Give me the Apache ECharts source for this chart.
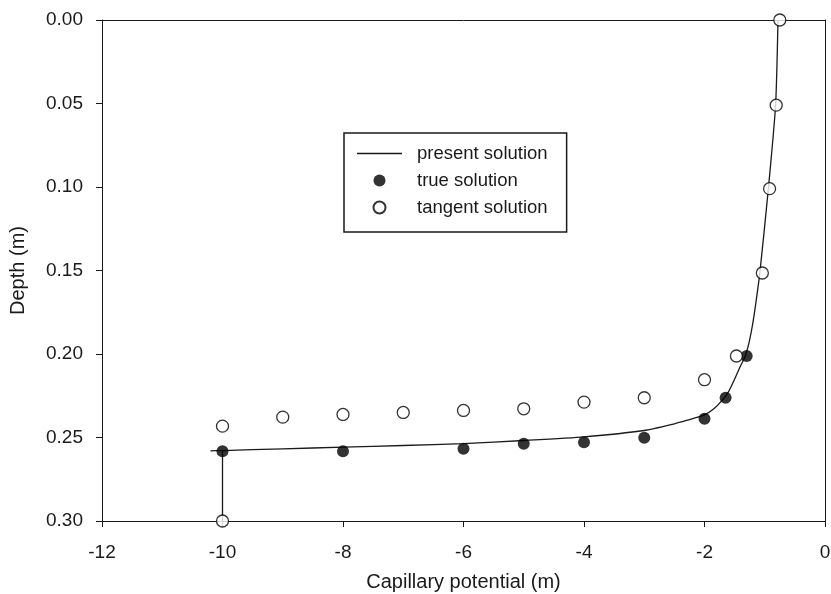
<!DOCTYPE html>
<html>
<head>
<meta charset="utf-8">
<script src="https://cdn.jsdelivr.net/npm/echarts@6/dist/echarts.min.js"></script>
<style>
  html, body { margin: 0; padding: 0; background: #fff; }
  #chart { width: 831px; height: 594px; }
</style>
</head>
<body>
<div id="chart"></div>
<script>
// present solution (capillary potential m, depth m)
var presentX = [-10.2, -10, -9, -8, -7, -6, -5, -4, -3, -2.5, -2.3, -2.0, -1.85, -1.7, -1.6, -1.5, -1.42, -1.33, -1.26, -1.2, -1.15, -1.08, -0.94, -0.82, -0.78];
var presentY = [0.2580, 0.2578, 0.2568, 0.2558, 0.2548, 0.2537, 0.2518, 0.2496, 0.2458, 0.2418, 0.2398, 0.2365, 0.2330, 0.2275, 0.2225, 0.2150, 0.2085, 0.2018, 0.1930, 0.1820, 0.1700, 0.1510, 0.1010, 0.0510, 0.0];
// vertical boundary segment at -10 m
var boundaryX = [-10, -10];
var boundaryY = [0.2578, 0.30];

// true solution
var trueX = [-10, -8, -6, -5, -4, -3, -2, -1.65, -1.3];
var trueY = [0.2582, 0.2583, 0.2567, 0.2537, 0.2528, 0.2501, 0.2388, 0.2262, 0.2012];

// tangent solution
var tangentX = [-10, -10, -9, -8, -7, -6, -5, -4, -3, -2, -1.47, -1.04, -0.92, -0.81, -0.75];
var tangentY = [0.30, 0.2432, 0.2378, 0.2362, 0.2350, 0.2338, 0.2328, 0.2288, 0.2262, 0.2154, 0.2012, 0.1515, 0.101, 0.051, 0.0];

function pairs(xs, ys) {
    var arr = [];
    for (var i = 0; i < xs.length; i++) {
        arr.push([xs[i], ys[i]]);
    }
    return arr;
}

var font = 'Liberation Sans, Arial, Helvetica, sans-serif';
var ink = '#1a1a1a';
var myChart = echarts.init(document.getElementById('chart'));

var option = {
    animation: false,
    backgroundColor: '#fff',
    textStyle: { fontFamily: font },
    grid: { left: 102, right: 6, top: 20, bottom: 73, outerBoundsMode: 'none', containLabel: false },
    legend: {
        orient: 'vertical',
        left: 344, top: 133,
        itemWidth: 45, itemHeight: 12, itemGap: 8,
        padding: [11, 19, 15, 13],
        borderColor: ink, borderWidth: 1.5,
        textStyle: { fontSize: 18.5, color: ink, padding: [0, 0, 0, 10], fontFamily: font },
        data: [
            { name: 'present solution', icon: 'path://M0,0L45,0L45,1.3L0,1.3Z' },
            'true solution',
            'tangent solution'
        ]
    },
    xAxis: [{
        type: 'value',
        min: -12, max: 0, interval: 2,
        name: 'Capillary potential (m)',
        nameLocation: 'middle', nameGap: 51,
        nameTextStyle: { fontSize: 20, color: ink },
        axisLine: { onZero: false, lineStyle: { color: ink } },
        axisTick: { show: true, length: 6, lineStyle: { color: ink } },
        axisLabel: { fontSize: 19, color: ink, margin: 22 },
        splitLine: { show: false }
    }, {
        type: 'value', position: 'top',
        min: -12, max: 0,
        axisLine: { show: true, onZero: false, lineStyle: { color: ink } },
        axisTick: { show: false }, axisLabel: { show: false },
        splitLine: { show: false }
    }],
    yAxis: [{
        type: 'value',
        inverse: true,
        min: 0, max: 0.3, interval: 0.05,
        name: 'Depth (m)',
        nameLocation: 'middle', nameGap: 74,
        nameTextStyle: { fontSize: 20, color: ink },
        axisLine: { show: true, onZero: false, lineStyle: { color: ink } },
        axisTick: { show: true, length: 6, lineStyle: { color: ink } },
        axisLabel: {
            fontSize: 19, color: ink, margin: 19,
            formatter: function (v) { return v.toFixed(2); }
        },
        splitLine: { show: false }
    }, {
        type: 'value', position: 'right', inverse: true,
        min: 0, max: 0.3,
        axisLine: { show: true, onZero: false, lineStyle: { color: ink } },
        axisTick: { show: false }, axisLabel: { show: false },
        splitLine: { show: false }
    }],
    series: [{
        name: 'present solution',
        type: 'line',
        symbol: 'none',
        smooth: 0.2,
        lineStyle: { color: ink, width: 1.3 },
        itemStyle: { color: ink },
        data: pairs(presentX, presentY),
        z: 2
    }, {
        type: 'line',
        symbol: 'none',
        lineStyle: { color: ink, width: 1.3 },
        data: pairs(boundaryX, boundaryY),
        z: 2
    }, {
        name: 'true solution',
        type: 'scatter',
        symbol: 'circle',
        symbolSize: 12,
        itemStyle: { color: '#000' },
        data: pairs(trueX, trueY),
        z: 3
    }, {
        name: 'tangent solution',
        type: 'scatter',
        symbol: 'circle',
        symbolSize: 12,
        itemStyle: { color: '#fff', borderColor: '#000', borderWidth: 1.3 },
        data: pairs(tangentX, tangentY),
        z: 4
    }]
};

myChart.setOption(option);
</script>
</body>
</html>
